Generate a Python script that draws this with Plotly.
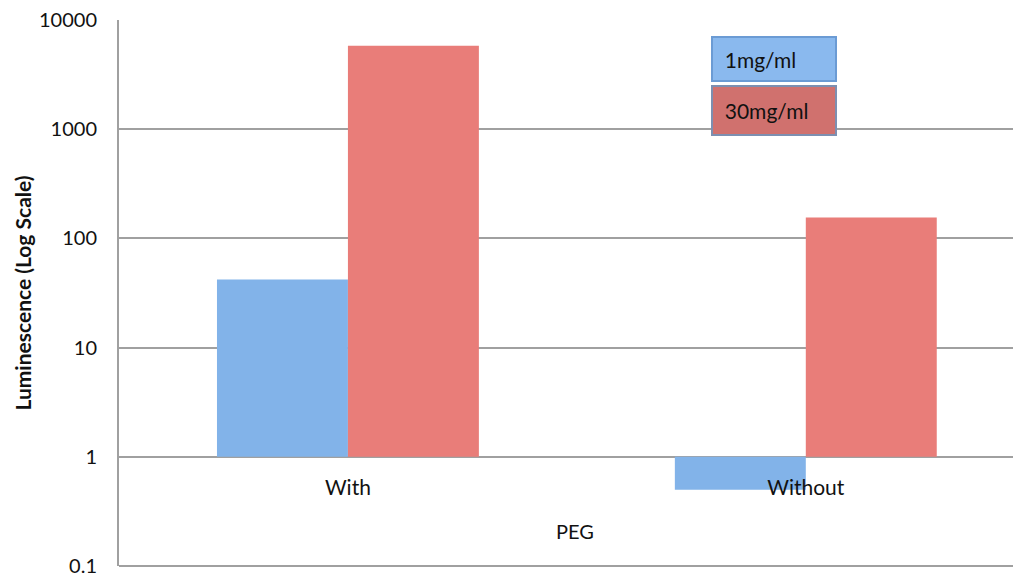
import plotly.graph_objects as go

categories = ["With", "Without"]
series_names = ["1mg/ml", "30mg/ml"]
values_1mg = [42, 0.5]
values_30mg = [5800, 155]
baseline = 1
y_tickvals = [0.1, 1, 10, 100, 1000, 10000]
y_ticktext = ["0.1", "1", "10", "100", "1000", "10000"]

blue = "#82b3e9"
red = "#e97d79"
FONT = "Lato"
NB = "&nbsp;"

fig = go.Figure()
for name, vals, col in [(series_names[0], values_1mg, blue), (series_names[1], values_30mg, red)]:
    fig.add_trace(go.Bar(
        x=categories,
        y=[v - baseline for v in vals],
        base=[baseline] * len(vals),
        name=name,
        marker=dict(color=col, line=dict(width=0)),
        showlegend=False,
    ))

fig.update_layout(
    width=1013, height=570,
    margin=dict(l=111, r=0, t=12, b=12, pad=0),
    paper_bgcolor="white", plot_bgcolor="white",
    barmode="group", bargap=0.428, bargroupgap=0,
    font=dict(family=FONT, color="#111"),
    yaxis=dict(
        type="log", range=[-1, 4], automargin=False,
        tickvals=y_tickvals, ticktext=y_ticktext,
        tickfont=dict(size=20, family=FONT, color="#111"),
        ticklabeloverflow="allow",
        showgrid=True, gridcolor="#a0a0a0", gridwidth=2,
        showline=True, linecolor="#a0a0a0", linewidth=2,
        ticks="", ticklabelstandoff=16,
        zeroline=False,
        title=dict(text="<b>Luminescence (Log Scale)</b>", font=dict(size=21, family=FONT, color="#111"), standoff=2),
    ),
    xaxis=dict(
        type="category", range=[-0.5, 1.47], automargin=False,
        anchor="free", position=(566 - 456) / 546,
        showgrid=False, showline=False, zeroline=False,
        ticks="", ticklabelstandoff=17,
        tickfont=dict(size=21, family=FONT, color="#111"),
    ),
    shapes=[dict(type="line", xref="paper", yref="paper", x0=0, x1=1, y0=0, y1=0,
                 line=dict(color="#a0a0a0", width=2))],
    annotations=[
        dict(text="PEG", xref="paper", yref="paper", x=(575 - 119) / 902, y=(566 - 531) / 546,
             xanchor="center", yanchor="middle",
             showarrow=False, font=dict(size=20, family=FONT, color="#111")),
        dict(text=NB + NB + series_names[0], xref="paper", yref="paper", x=(774 - 119) / 902, y=(566 - 59) / 546,
             xanchor="center", yanchor="middle", showarrow=False, align="left",
             width=120, height=40, bgcolor="#8ab9ee", bordercolor="#6b9bd4", borderwidth=2, borderpad=1,
             font=dict(size=21, family=FONT, color="#111")),
        dict(text=NB + NB + series_names[1], xref="paper", yref="paper", x=(774 - 119) / 902, y=(566 - 111) / 546,
             xanchor="center", yanchor="middle", showarrow=False, align="left",
             width=120, height=45, bgcolor="#d0716e", bordercolor="#7d8fb0", borderwidth=2, borderpad=1,
             font=dict(size=21, family=FONT, color="#111")),
    ],
)

fig.write_html("out.html")
